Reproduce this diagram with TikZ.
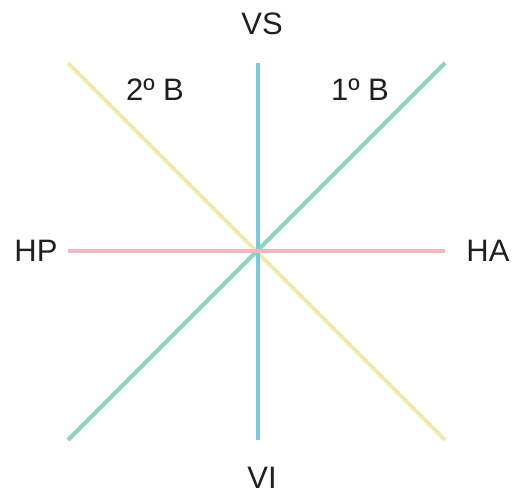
\documentclass[tikz,border=0pt]{standalone}
\usepackage{fontspec}
\setmainfont{Liberation Sans}
\usepackage{tikz}
\definecolor{lineaazul}{HTML}{7CC8DE}
\definecolor{linearosa}{HTML}{F4B6BE}
\definecolor{lineaverde}{HTML}{8ED3C0}
\definecolor{lineaamarilla}{HTML}{F2E9B0}
\tikzset{
  etiqueta/.style={font=\fontsize{31}{36}\selectfont, text=black!88},
  linea/.style={line width=4pt}
}
\begin{document}
\begin{tikzpicture}[x=1pt,y=-1pt]
    \useasboundingbox (0,0) rectangle (526,497);

    % extremos de las rectas
    \coordinate (sup) at (258,63);
    \coordinate (inf) at (258,440);
    \coordinate (izq) at (68,251);
    \coordinate (der) at (445,251);
    \coordinate (supizq) at (68,63);
    \coordinate (infder) at (445,440);
    \coordinate (infizq) at (68,440);
    \coordinate (supder) at (445,63);

    % rectas: bisectores, vertical y horizontal
    \draw[linea,lineaamarilla] (supizq)--(infder);
    \draw[linea,lineaverde] (infizq)--(supder);
    \draw[linea,lineaazul] (sup)--(inf);
    \draw[linea,linearosa] (izq)--(der);

    % etiquetas
    \node[etiqueta] (vs) at (262,24) {VS};
    \node[etiqueta] (vi) at (262,478) {VI};
    \node[etiqueta] (hp) at (36,251) {HP};
    \node[etiqueta] (ha) at (488,251) {HA};
    \node[etiqueta] (segundo) at (155,90) {2º B};
    \node[etiqueta] (primero) at (360,90) {1º B};

\end{tikzpicture}
\end{document}
